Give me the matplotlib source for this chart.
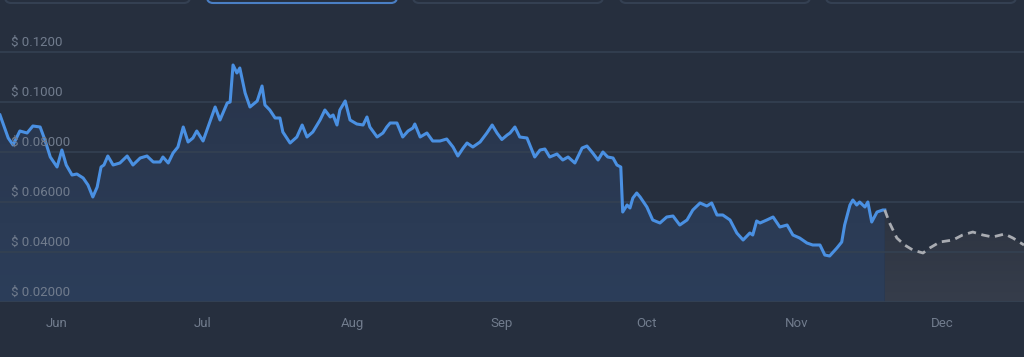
import matplotlib
matplotlib.use('Agg')
import matplotlib.pyplot as plt
import matplotlib.dates as mdates
import matplotlib.transforms as mtransforms
from matplotlib.patches import FancyBboxPatch, Polygon
import numpy as np
import pandas as pd

plt.rcParams['font.family'] = ['Roboto', 'DejaVu Sans']

# days from 1 Jun, price in USD (history)
hist_days = [-11.8, -10.1, -9.1, -7.7, -6.2, -5.0, -3.5, -2.5, -1.4, 0.0,
             1.0, 1.9, 3.1, 4.1, 5.4, 6.4, 7.4, 8.3, 9.1, 9.7,
             10.5, 11.6, 13.0, 14.5, 15.7, 17.2, 18.6, 19.9, 21.3, 21.9,
             23.0, 24.0, 25.0, 26.1, 27.1, 28.1, 28.9, 30.2, 31.6, 32.7,
             33.7, 35.2, 35.8, 36.4, 37.2, 37.8, 38.9, 39.9, 41.4, 42.4,
             43.0, 44.0, 45.1, 46.1, 46.7, 48.2, 49.6, 50.7, 51.7, 52.9,
             54.4, 55.4, 56.5, 57.1, 57.9, 58.5, 59.6, 60.6, 62.0, 63.3,
             64.1, 64.7, 66.2, 67.4, 68.2, 68.9, 70.3, 71.5, 72.6, 73.6,
             74.0, 75.1, 76.5, 77.7, 79.2, 80.6, 81.9, 82.9, 84.0, 84.8,
             86.0, 87.5, 88.9, 90.0, 91.0, 92.0, 93.1, 93.7, 94.7, 95.7,
             97.2, 98.8, 99.9, 100.9, 101.9, 103.4, 104.6, 105.7, 107.1, 108.6,
             109.6, 110.8, 111.9, 112.9, 113.9, 115.0, 115.8, 116.6, 117.0, 117.9,
             118.5, 119.1, 119.9, 120.6, 122.0, 123.2, 124.7, 126.1, 127.4, 128.8,
             130.3, 131.5, 133.0, 134.4, 135.4, 136.5, 137.7, 139.2, 140.6, 141.9,
             143.3, 143.9, 144.7, 145.4, 146.8, 148.1, 149.5, 151.0, 152.2, 153.6,
             155.1, 156.3, 157.8, 158.8, 159.8, 161.3, 162.3, 162.9, 164.0, 164.6,
             165.4, 166.0, 167.1, 167.7, 168.5, 169.6, 170.8, 171.2]
hist_price = [0.0948, 0.0856, 0.0828, 0.0884, 0.0876, 0.0904, 0.0900, 0.0848, 0.0780, 0.0740,
              0.0808, 0.0748, 0.0708, 0.0712, 0.0696, 0.0668, 0.0620, 0.0660, 0.0740, 0.0748,
              0.0784, 0.0748, 0.0756, 0.0784, 0.0748, 0.0776, 0.0784, 0.0760, 0.0760, 0.0780,
              0.0756, 0.0796, 0.0820, 0.0900, 0.0840, 0.0856, 0.0884, 0.0844, 0.0920, 0.0980,
              0.0928, 0.0996, 0.1000, 0.1148, 0.1116, 0.1136, 0.1036, 0.0980, 0.1004, 0.1064,
              0.0988, 0.0968, 0.0936, 0.0936, 0.0880, 0.0836, 0.0860, 0.0908, 0.0860, 0.0880,
              0.0928, 0.0968, 0.0940, 0.0948, 0.0908, 0.0968, 0.1004, 0.0928, 0.0912, 0.0908,
              0.0940, 0.0900, 0.0860, 0.0876, 0.0900, 0.0916, 0.0916, 0.0860, 0.0884, 0.0896,
              0.0912, 0.0860, 0.0876, 0.0844, 0.0844, 0.0852, 0.0820, 0.0784, 0.0816, 0.0836,
              0.0820, 0.0840, 0.0876, 0.0908, 0.0876, 0.0850, 0.0868, 0.0876, 0.0900, 0.0860,
              0.0856, 0.0780, 0.0808, 0.0812, 0.0780, 0.0792, 0.0768, 0.0780, 0.0756, 0.0816,
              0.0824, 0.0796, 0.0768, 0.0800, 0.0780, 0.0776, 0.0748, 0.0740, 0.0560, 0.0588,
              0.0576, 0.0616, 0.0636, 0.0620, 0.0580, 0.0528, 0.0516, 0.0540, 0.0544, 0.0508,
              0.0528, 0.0568, 0.0596, 0.0584, 0.0596, 0.0548, 0.0548, 0.0528, 0.0476, 0.0448,
              0.0476, 0.0468, 0.0524, 0.0516, 0.0528, 0.0540, 0.0500, 0.0508, 0.0468, 0.0456,
              0.0436, 0.0428, 0.0428, 0.0388, 0.0384, 0.0416, 0.0440, 0.0508, 0.0588, 0.0608,
              0.0588, 0.0600, 0.0580, 0.0600, 0.0520, 0.0560, 0.0568, 0.0568]

# forecast
fc_days = [171.2, 172.2, 173.7, 175.3, 177.0, 179.1, 180.5, 182.6, 185.3, 187.3,
           189.4, 191.5, 193.5, 196.0, 197.7, 200.0]
fc_price = [0.0568, 0.0516, 0.0456, 0.0428, 0.0408, 0.0396, 0.0416, 0.0440, 0.0448, 0.0468,
            0.0480, 0.0468, 0.0460, 0.0472, 0.0456, 0.0428]

y_ticks = [0.02, 0.04, 0.06, 0.08, 0.10, 0.12]
y_labels = ['$ 0.02000', '$ 0.04000', '$ 0.06000', '$ 0.08000', '$ 0.1000', '$ 0.1200']
months = ['2023-06-01', '2023-07-01', '2023-08-01', '2023-09-01',
          '2023-10-01', '2023-11-01', '2023-12-01']

base = pd.Timestamp('2023-06-01')
to_num = lambda d: mdates.date2num(base + pd.to_timedelta(d, unit='D'))
hx = np.array([to_num(d) for d in hist_days])
fx = np.array([to_num(d) for d in fc_days])
hy = np.array(hist_price)
fy = np.array(fc_price)

BG = '#262f3e'
TXT = '#717c8d'
fig = plt.figure(figsize=(10.24, 3.57), dpi=100, facecolor=BG)
ax = fig.add_axes([0, 55 / 357, 1, 280 / 357])
ax.set_facecolor(BG)
ymin, ymax = 0.02, 0.132
ax.set_xlim(hx[0], fx[-1])
ax.set_ylim(ymin, ymax)

# gradient fills under the curves
def grad_fill(x, y, c_top, c_bot):
    verts = [(x[0], ymin)] + list(zip(x, y)) + [(x[-1], ymin)]
    poly = Polygon(verts, closed=True, facecolor='none', edgecolor='none')
    ax.add_patch(poly)
    top = np.array(matplotlib.colors.to_rgb(c_top))
    bot = np.array(matplotlib.colors.to_rgb(c_bot))
    t = np.linspace(0, 1, 200)[:, None]
    img = (top * (1 - t) + bot * t)[:, None, :]
    im = ax.imshow(img, extent=[x[0], x[-1], ymin, y.max()], aspect='auto',
                   origin='upper', zorder=1, interpolation='bilinear')
    im.set_clip_path(poly)

grad_fill(hx, hy, '#29354b', '#2c3e5a')
grad_fill(fx, fy, '#2d3441', '#363d4b')

for v in y_ticks:
    ax.axhline(v, color='#344152', lw=1.2, zorder=2)

ax.plot(hx, hy, color='#4a90e2', lw=2.2, zorder=4, solid_joinstyle='round')
ax.plot(fx, fy, color='#a9acb2', lw=2, ls=(0, (3, 2)), zorder=4)

# y labels sit inside the plot, just above their gridline
lab_tr = mtransforms.blended_transform_factory(ax.transAxes, ax.transData)
for v, lab in zip(y_ticks, y_labels):
    ax.text(0.0105, v + 0.0012, lab, transform=lab_tr, color=TXT, fontsize=9.5,
            ha='left', va='bottom', zorder=5)

ax.set_xticks([mdates.date2num(pd.Timestamp(m)) for m in months])
ax.set_xticklabels([pd.Timestamp(m).strftime('%b') for m in months])
ax.tick_params(axis='x', length=0, pad=11, labelsize=9.5, labelcolor=TXT)
ax.set_yticks([])
for s in ax.spines.values():
    s.set_visible(False)

# period selector buttons, cut off at the top edge
buttons = [(5, 190), (207, 397), (413, 603), (620, 810), (826, 1016)]
for i, (x0, x1) in enumerate(buttons):
    ec = '#4a7fc4' if i == 1 else '#344052'
    fig.patches.append(FancyBboxPatch((x0 / 1024, 1 - 3 / 357), (x1 - x0) / 1024, 0.2,
                                      boxstyle='round,pad=0,rounding_size=0.006',
                                      transform=fig.transFigure, facecolor=BG,
                                      edgecolor=ec, lw=1.5, mutation_aspect=2.8))

fig.savefig('out.png', dpi=100, facecolor=BG)
